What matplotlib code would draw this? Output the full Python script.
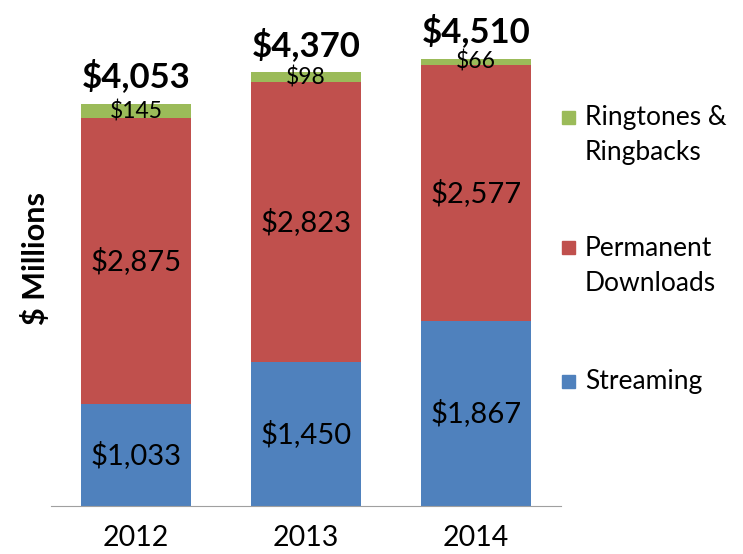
import numpy as np
import matplotlib.pyplot as plt
from matplotlib.patches import Rectangle

plt.rcParams['font.family'] = ['Lato', 'DejaVu Sans']

years = ['2012', '2013', '2014']
streaming = [1033, 1450, 1867]
downloads = [2875, 2823, 2577]
ringtones = [145, 98, 66]
totals = [4053, 4370, 4510]

series_names = ['Streaming', 'Permanent\nDownloads', 'Ringtones &\nRingbacks']
colors = ['#4F81BD', '#C0504D', '#9BBB59']

fig = plt.figure(figsize=(7.43, 5.54), dpi=100)
ax = fig.add_axes([0.0686, 0.0866, 0.6864, 0.8953])

x = np.arange(len(years))
w = 0.65
bottom = np.zeros(len(years))
for vals, col in zip([streaming, downloads, ringtones], colors):
    bars = ax.bar(x, vals, w, bottom=bottom, color=col)
    for xi, b, v in zip(x, bottom, vals):
        ax.text(xi, b + v / 2, '${:,}'.format(v), ha='center', va='center',
                fontsize=21 if v > 500 else 16.5)
    bottom += np.array(vals)

for xi, t in zip(x, totals):
    ax.text(xi, t + 110, '${:,}'.format(t), ha='center', va='bottom',
            fontsize=25, fontweight='bold')

ax.set_xlim(-0.5, 2.5)
ax.set_ylim(0, 5000)
ax.set_xticks(x)
ax.set_xticklabels(years, fontsize=20.5)
ax.tick_params(axis='x', length=0, pad=14)
ax.set_yticks([])
for s in ['left', 'right', 'top']:
    ax.spines[s].set_visible(False)
ax.spines['bottom'].set_color('#A0A0A0')
ax.set_ylabel('$ Millions', fontsize=22, fontweight='bold', labelpad=1)

# legend drawn by hand, square next to first line of each label
leg_y = [117, 248, 381]  # pixel rows from the top
for name, col, py in zip(series_names[::-1], colors[::-1], leg_y):
    fy = 1 - py / 554
    fig.add_artist(Rectangle((562 / 743, fy - 6.5 / 554), 13 / 743, 13 / 554,
                             color=col, transform=fig.transFigure))
    fig.text(585 / 743, fy + 12 / 554, name, fontsize=19, va='top',
             linespacing=1.5)

fig.savefig('out.png', dpi=100)
